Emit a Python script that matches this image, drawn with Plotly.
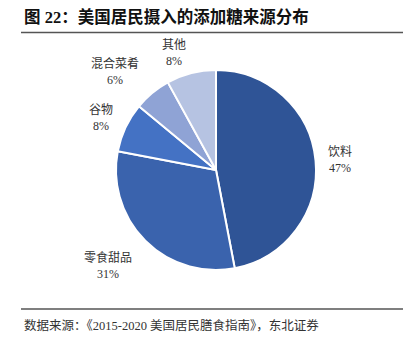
import plotly.graph_objects as go

# Added-sugar sources (share, %)
categories = ["饮料", "零食甜品", "谷物", "混合菜肴", "其他"]
shares = [47, 31, 8, 6, 8]
slice_colors = ["#2F5496", "#3A63AD", "#4472C4", "#8FA3D5", "#B6C3E2"]

# label anchor points (pixels in the 414x348 canvas)
label_px = [(340, 160), (108, 265), (101, 118), (115, 71), (174, 53)]

W, H = 414, 348
cx, cy, r = 216, 170, 100

fig = go.Figure(go.Pie(
    labels=categories,
    values=shares,
    sort=False,
    direction="clockwise",
    rotation=0,
    marker=dict(colors=slice_colors, line=dict(color="white", width=2)),
    textinfo="none",
    hoverinfo="label+percent",
    domain=dict(x=[(cx - r) / W, (cx + r) / W], y=[1 - (cy + r) / H, 1 - (cy - r) / H]),
    showlegend=False,
))

label_font = dict(family="Liberation Serif, Noto Sans CJK SC", size=12, color="#333333")
for name, val, (px, py) in zip(categories, shares, label_px):
    fig.add_annotation(
        x=px / W, y=1 - py / H, xref="paper", yref="paper",
        text=f"{name}<br>{val}%", showarrow=False, align="center",
        font=label_font, xanchor="center", yanchor="middle",
    )

# title and source
fig.add_annotation(
    x=22 / W, y=1 - 17 / H, xref="paper", yref="paper", xanchor="left", yanchor="middle",
    text="<b>图 22：美国居民摄入的添加糖来源分布</b>", showarrow=False,
    font=dict(family="Liberation Serif, Noto Sans CJK SC", size=16.5, color="#111111"),
)
fig.add_annotation(
    x=22 / W, y=1 - 325 / H, xref="paper", yref="paper", xanchor="left", yanchor="middle",
    text="数据来源：《2015-2020 美国居民膳食指南》，东北证券", showarrow=False,
    font=dict(family="Liberation Serif, Noto Sans CJK SC", size=12.5, color="#333333"),
)

# rules under the title and above the source
for yy in (32.5, 309):
    fig.add_shape(type="line", xref="paper", yref="paper",
                  x0=21 / W, x1=403 / W, y0=1 - yy / H, y1=1 - yy / H,
                  line=dict(color="#555555", width=1.5))

fig.update_layout(
    width=W, height=H,
    margin=dict(l=0, r=0, t=0, b=0),
    paper_bgcolor="white", plot_bgcolor="white",
)

fig.write_html("out.html")
